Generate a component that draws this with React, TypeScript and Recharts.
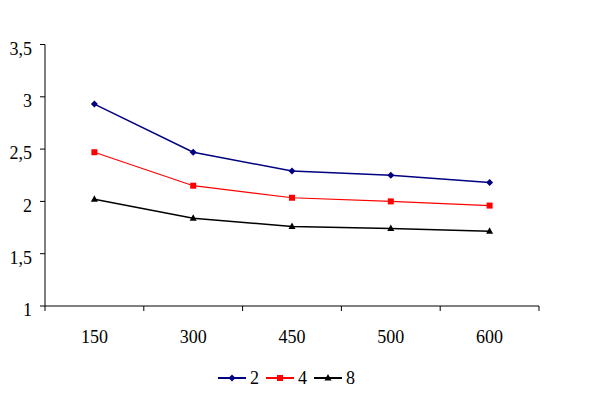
import { LineChart, Line, XAxis, YAxis, Legend } from "recharts";

const categories = ["150", "300", "450", "500", "600"];
const series2 = [2.93, 2.47, 2.29, 2.25, 2.18];
const series4 = [2.47, 2.15, 2.035, 2.0, 1.96];
const series8 = [2.02, 1.84, 1.76, 1.74, 1.715];
const yTicks = [1, 1.5, 2, 2.5, 3, 3.5];

// category i sits in the middle of slot [i, i+1], Excel style ticks between categories
const data = categories.map((c, i) => ({
  pos: i + 0.5,
  label: c,
  s2: series2[i],
  s4: series4[i],
  s8: series8[i],
}));

const xTicks: number[] = [];
for (let i = 0; i <= categories.length * 2; i++) xTicks.push(i / 2);

const FONT = "Liberation Serif, DejaVu Serif, serif";

const Diamond = ({ cx, cy, color }: any) => (
  <path d={`M${cx},${cy - 3.5}L${cx + 3.5},${cy}L${cx},${cy + 3.5}L${cx - 3.5},${cy}Z`} fill={color} />
);
const Square = ({ cx, cy, color }: any) => (
  <rect x={cx - 3} y={cy - 3} width={6} height={6} fill={color} />
);
const Triangle = ({ cx, cy, color }: any) => (
  <path d={`M${cx},${cy - 4}L${cx + 3.5},${cy + 2.5}L${cx - 3.5},${cy + 2.5}Z`} fill={color} />
);

const XTick = ({ x, y, payload }: any) => {
  const v = payload.value;
  if (Number.isInteger(v)) {
    return <line x1={x} x2={x} y1={y} y2={y + 5} stroke="#000" />;
  }
  const idx = Math.floor(v);
  return (
    <text x={x} y={y + 37} textAnchor="middle" fontSize={18} fontFamily={FONT} fill="#000">
      {categories[idx]}
    </text>
  );
};

const YTick = ({ x, y, payload }: any) => (
  <text x={x} y={y + 4} dy="0.355em" textAnchor="end" fontSize={18} fontFamily={FONT} fill="#000">
    {String(payload.value).replace(".", ",")}
  </text>
);

const legendItems = [
  { name: "2", color: "#000080", Marker: Diamond },
  { name: "4", color: "#FF0000", Marker: Square },
  { name: "8", color: "#000000", Marker: Triangle },
];

const renderLegend = () => (
  <div style={{ display: "flex", justifyContent: "center", alignItems: "center", height: 30, fontFamily: FONT, fontSize: 18, paddingLeft: 41 }}>
    {legendItems.map(({ name, color, Marker }) => (
      <div key={name} style={{ display: "flex", alignItems: "center", marginRight: 7 }}>
        <svg width={28} height={10}>
          <line x1={0} x2={28} y1={5} y2={5} stroke={color} strokeWidth={2} />
          <Marker cx={14} cy={5} color={color} />
        </svg>
        <span style={{ marginLeft: 4 }}>{name}</span>
      </div>
    ))}
  </div>
);

export default function App() {
  return (
    <div style={{ position: "absolute", left: 0, top: 0, background: "#fff" }}>
      <LineChart width={604} height={399} data={data} margin={{ top: 44.5, right: 65, left: 0, bottom: 23 }}>
        <XAxis
          dataKey="pos"
          type="number"
          domain={[0, 5]}
          ticks={xTicks}
          interval={0}
          height={40}
          axisLine={{ stroke: "#000" }}
          tickLine={false}
          tickSize={0}
          tickMargin={0}
          tick={<XTick />}
        />
        <YAxis
          domain={[1, 3.5]}
          ticks={yTicks}
          interval={0}
          width={45}
          axisLine={{ stroke: "#000" }}
          tickLine={{ stroke: "#000" }}
          tickSize={5}
          tickMargin={8}
          tick={<YTick />}
        />
        <Legend verticalAlign="bottom" height={30} wrapperStyle={{ bottom: 6 }} content={renderLegend} />
        <Line dataKey="s2" name="2" stroke="#000080" strokeWidth={1.5} isAnimationActive={false}
          dot={(p: any) => <Diamond key={p.index} cx={p.cx} cy={p.cy} color="#000080" />} />
        <Line dataKey="s4" name="4" stroke="#FF0000" strokeWidth={1.2} isAnimationActive={false}
          dot={(p: any) => <Square key={p.index} cx={p.cx} cy={p.cy} color="#FF0000" />} />
        <Line dataKey="s8" name="8" stroke="#000000" strokeWidth={1.5} isAnimationActive={false}
          dot={(p: any) => <Triangle key={p.index} cx={p.cx} cy={p.cy} color="#000000" />} />
      </LineChart>
    </div>
  );
}
